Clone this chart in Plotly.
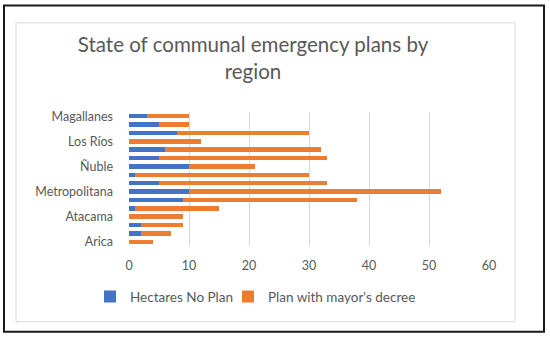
import plotly.graph_objects as go

regions = ["Arica", "Tarapacá", "Antofagasta", "Atacama", "Coquimbo", "Valparaíso",
           "Metropolitana", "O'Higgins", "Maule", "Ñuble", "Biobío", "Araucanía",
           "Los Ríos", "Los Lagos", "Aysén", "Magallanes"]
no_plan = [0, 2, 2, 0, 1, 9, 10, 5, 1, 10, 5, 6, 0, 8, 5, 3]
mayor_decree = [4, 5, 7, 9, 14, 29, 42, 28, 29, 11, 28, 26, 12, 22, 5, 7]
shown_labels = ["Arica", "Atacama", "Metropolitana", "Ñuble", "Los Ríos", "Magallanes"]
x_ticks = [0, 10, 20, 30, 40, 50, 60]

FONT = "Lato, 'Open Sans', sans-serif"
GREY = "#595959"

fig = go.Figure()
fig.add_trace(go.Bar(y=regions, x=no_plan, orientation="h", name="Hectares No Plan",
                     marker=dict(color="#4472C4", line=dict(width=0)), legend="legend",
                     showlegend=True))
fig.add_trace(go.Bar(y=regions, x=mayor_decree, orientation="h", name="Plan with mayor's decree",
                     marker=dict(color="#ED7D31", line=dict(width=0)), legend="legend2",
                     showlegend=True))

L, R, T, B = 129, 489, 111.5, 246
W, H = R - L, B - T

def px(x):
    return (x - L) / W

def py(y):
    return (B - y) / H

shapes = [
    dict(type="rect", xref="paper", yref="paper", x0=px(16), x1=px(515), y0=py(322), y1=py(22),
         line=dict(color="#D9D9D9", width=1), layer="below"),
    dict(type="rect", xref="paper", yref="paper", x0=px(4), x1=px(544), y0=py(332), y1=py(4.5),
         line=dict(color="#1a1a1a", width=2), layer="below"),
]

legend_style = dict(orientation="h", xanchor="left", y=py(297), yanchor="middle",
                    font=dict(size=13.5, color=GREY), itemwidth=30, bgcolor="rgba(0,0,0,0)")

fig.update_layout(
    width=550, height=337,
    margin=dict(l=L, r=550 - R, t=T, b=337 - B),
    paper_bgcolor="white", plot_bgcolor="white",
    barmode="stack", bargap=0.45, showlegend=True,
    font=dict(family=FONT, color=GREY),
    title=dict(text="State of communal emergency plans by<br>region", x=253 / 550, xanchor="center",
               y=1 - 52 / 337, yanchor="middle", font=dict(size=20.5, color=GREY, family=FONT)),
    xaxis=dict(range=[0, 60], tickvals=x_ticks, showgrid=True, gridcolor="#D9D9D9", gridwidth=1,
               zeroline=False, showline=False, tickfont=dict(size=12.5, color=GREY),
               ticklabelstandoff=10, fixedrange=True),
    yaxis=dict(type="category", categoryorder="array", categoryarray=regions,
               tickvals=shown_labels, ticktext=shown_labels, showgrid=False, zeroline=False,
               showline=False, tickfont=dict(size=12.5, color=GREY), ticklabelstandoff=15,
               range=[-0.5, len(regions) - 0.5], fixedrange=True),
    legend=dict(x=px(90), visible=True, **legend_style),
    legend2=dict(x=px(228), visible=True, **legend_style),
    shapes=shapes,
)

fig.write_html("out.html", post_script="document.body.style.margin='0';",
               config={"displayModeBar": False})
